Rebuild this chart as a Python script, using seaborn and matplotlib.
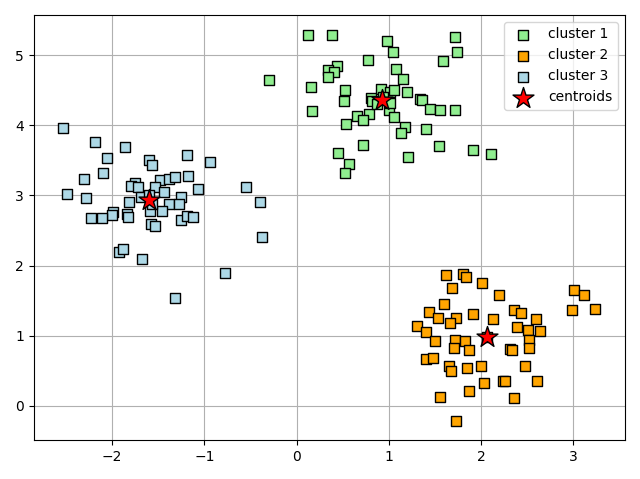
import matplotlib
matplotlib.use("Agg")
import matplotlib.pyplot as plt
import seaborn as sns
import numpy as np

c1_x = [0.128, 0.387, 0.983, 1.048, 1.719, 1.740, 1.589, 0.777, 0.442, 0.344,
        0.403, 0.344, 1.080, 1.156, -0.294, 0.160, 0.528, 0.911, 1.009, 1.052,
        1.199, 0.517, 0.803, 0.820, 1.340, 1.355, 0.171, 0.998, 1.448, 1.556,
        1.719, 0.658, 0.781, 0.723, 1.058, 0.539, 1.177, 1.131, 1.405, 0.723,
        1.542, 0.449, 1.210, 1.913, 2.108, 0.568, 0.525, 0.936, 0.871, 1.012]
c1_y = [5.290, 5.290, 5.204, 5.043, 5.261, 5.047, 4.914, 4.933, 4.843, 4.790,
        4.757, 4.694, 4.800, 4.657, 4.643, 4.547, 4.500, 4.519, 4.476, 4.504,
        4.476, 4.347, 4.386, 4.343, 4.380, 4.361, 4.204, 4.219, 4.233, 4.219,
        4.219, 4.129, 4.157, 4.076, 4.114, 4.014, 3.976, 3.886, 3.943, 3.714,
        3.700, 3.600, 3.551, 3.643, 3.586, 3.443, 3.319, 4.404, 4.304, 4.319]

c2_x = [1.621, 1.805, 1.838, 2.011, 1.683, 2.195, 1.600, 3.003, 3.119, 2.985,
        1.437, 1.535, 1.729, 1.661, 1.913, 2.354, 2.437, 2.130, 2.592, 1.307,
        1.405, 2.386, 2.509, 2.635, 1.506, 1.715, 1.827, 2.519, 1.708, 1.870,
        2.318, 2.340, 2.519, 1.398, 1.481, 1.650, 1.675, 1.848, 2.000, 2.473,
        2.032, 2.238, 2.262, 2.606, 1.870, 1.556, 2.357, 1.729, 3.231, 2.060]
c2_y = [1.861, 1.876, 1.829, 1.757, 1.676, 1.576, 1.457, 1.647, 1.576, 1.361,
        1.333, 1.247, 1.247, 1.176, 1.304, 1.371, 1.319, 1.233, 1.233, 1.133,
        1.047, 1.119, 1.076, 1.066, 0.923, 0.933, 0.919, 0.943, 0.829, 0.790,
        0.814, 0.800, 0.823, 0.671, 0.686, 0.561, 0.490, 0.533, 0.571, 0.571,
        0.319, 0.357, 0.357, 0.357, 0.214, 0.129, 0.104, -0.214, 1.376, 0.980]

c3_x = [-2.535, -2.181, -1.864, -2.051, -1.596, -1.571, -1.185, -0.944, -2.102, -2.307,
        -1.755, -1.791, -1.723, -1.477, -1.380, -1.315, -1.182, -1.531, -1.442, -1.066,
        -2.491, -2.286, -1.820, -1.683, -1.258, -1.387, -1.279, -1.994, -2.004, -1.842,
        -1.831, -1.593, -1.456, -2.232, -2.113, -1.258, -1.193, -1.128, -1.578, -1.539,
        -1.924, -1.881, -1.680, -0.781, -1.323, -0.547, -0.395, -0.373, -1.596, -1.564]
c3_y = [3.957, 3.757, 3.686, 3.529, 3.504, 3.433, 3.576, 3.471, 3.319, 3.229,
        3.171, 3.133, 3.114, 3.219, 3.233, 3.261, 3.276, 3.114, 3.051, 3.086,
        3.014, 2.957, 2.900, 2.971, 2.971, 2.871, 2.871, 2.757, 2.719, 2.733,
        2.686, 2.776, 2.771, 2.676, 2.676, 2.647, 2.704, 2.686, 2.590, 2.557,
        2.186, 2.229, 2.086, 1.886, 1.543, 3.119, 2.904, 2.404, 3.004, 2.876]

cent_x = [0.925, 2.062, -1.596]
cent_y = [4.361, 0.976, 2.933]

labels = ["cluster 1", "cluster 2", "cluster 3", "centroids"]
colors = ["lightgreen", "orange", "lightblue"]

fig, ax = plt.subplots(figsize=(6.4, 4.79), dpi=100)
for xs, ys, col, lab in zip([c1_x, c2_x, c3_x], [c1_y, c2_y, c3_y], colors, labels[:3]):
    sns.scatterplot(x=xs, y=ys, marker="s", s=50, color=col, edgecolor="black",
                    linewidth=1, label=lab, ax=ax, zorder=3)
sns.scatterplot(x=cent_x, y=cent_y, marker="*", s=250, color="red", edgecolor="black",
                linewidth=1, label=labels[3], ax=ax, zorder=4)

ax.set_xlim(-2.852, 3.561)
ax.set_ylim(-0.495, 5.576)
ax.grid(True)
ax.set_axisbelow(True)
ax.legend(scatterpoints=1, loc="upper right")
plt.tight_layout()
fig.savefig("out.png", dpi=100)
